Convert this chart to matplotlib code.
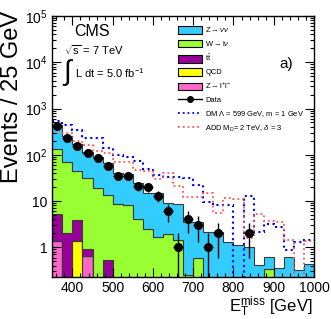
import numpy as np
import matplotlib
matplotlib.use('Agg')
import matplotlib.pyplot as plt
from matplotlib.patches import Patch
from matplotlib.lines import Line2D
from matplotlib.ticker import MultipleLocator, LogLocator, FuncFormatter

plt.rcParams['font.family'] = ['Liberation Sans', 'DejaVu Sans']
plt.rcParams['mathtext.fontset'] = 'custom'
plt.rcParams['mathtext.rm'] = 'Liberation Sans'
plt.rcParams['mathtext.it'] = 'Liberation Sans:italic'
plt.rcParams['mathtext.bf'] = 'Liberation Sans:bold'

# MET bins, 25 GeV wide
edges = np.arange(350, 1001, 25)

# background components (events / bin)
zll   = [1.39, 0, 0, 0.66, 0, 0, 0, 0, 0, 0, 0, 0, 0, 0, 0, 0, 0, 0, 0, 0, 0, 0, 0, 0, 0, 0]
qcd   = [0, 0, 1.39, 0, 0, 0, 0, 0, 0, 0, 0, 0, 0, 0, 0, 0, 0, 0, 0, 0, 0, 0, 0, 0, 0, 0]
ttbar = [3.86, 2.0, 2.5, 0.25, 0, 0.53, 0, 0, 0, 0, 0, 0, 0, 0, 0, 0, 0, 0, 0, 0, 0, 0, 0, 0, 0, 0]
wlnu  = [126, 67, 41.1, 30.1, 19, 13, 8.6, 8.2, 4.0, 2.45, 1.7, 1.94, 1.45, 0.25, 0.58,
         0, 0, 0, 0, 0, 0, 0.34, 0, 0, 0, 0]
znunu = [299, 186, 125, 86, 72, 51.5, 31.4, 30.8, 20, 12.25, 13, 7.06, 7.05, 3.35, 3.02,
         2.1, 2.1, 1.3, 1.12, 1.0, 0.41, 0.26, 0.35, 0.6, 0.32, 0.43]

# observed events
data = [410, 234, 155, 111, 85, 57, 34, 35, 21, 20, 13, 6, 1, 4, 3, 1, 2, 0, 0, 2, 0, 0, 0, 0, 0, 0]

# signal + background
dm  = [540, 440, 343, 227, 227, 138, 100, 88, 72, 50, 36, 33, 33, 32, 22.5, 9.7, 8, 8,
       0.1, 12.8, 2.17, 3.2, 2.7, 0.87, 1.32, 1.42]
add = [300, 290, 200, 165, 122, 110, 71, 70, 46, 45, 30, 41, 21, 12, 12, 14.7, 5.4, 11.5,
       11, 1.6, 5.3, 3.7, 3.5, 1.45, 0.1, 1.35]

W, H = 331, 319
fig = plt.figure(figsize=(W / 100, H / 100), dpi=100)
ax = fig.add_axes([52.3 / W, 1 - 276.7 / H, (314 - 52.3) / W, (276.7 - 16) / H])

components = [
    (zll, '#ff66cc', 'Z$\\rightarrow$l$^{+}$l$^{-}$'),
    (qcd, '#ffff00', 'QCD'),
    (ttbar, '#990099', 't$\\bar{\\rm t}$'),
    (wlnu, '#99ff33', 'W$\\rightarrow$l$\\nu$'),
    (znunu, '#33ccff', 'Z$\\rightarrow\\nu\\nu$'),
]

base = np.full(len(data), 1e-3)
for vals, col, lab in components:
    top = base + np.array(vals)
    ax.stairs(top, edges, baseline=base, fill=True, facecolor=col,
              edgecolor='#3a3a3a', lw=0.8)
    base = top

ax.stairs(dm, edges, baseline=None, color='#0000ff', ls=':', lw=1.5)
ax.stairs(add, edges, baseline=None, color='#ff5555', ls=':', lw=1.3)

centers = 0.5 * (edges[1:] + edges[:-1])
d = np.array(data, dtype=float)
m = d > 0
err = np.sqrt(d[m])
lo = np.minimum(err, d[m] * 0.999)
ax.errorbar(centers[m], d[m], xerr=12.5, yerr=[lo, err], fmt='o', color='black',
            ms=5.5, lw=1, capsize=0, zorder=5)

ax.set_yscale('log')
ax.set_xlim(350, 1000)
ax.set_ylim(0.231, 1e5)

ax.xaxis.set_major_locator(MultipleLocator(100))
ax.xaxis.set_minor_locator(MultipleLocator(20))
ax.yaxis.set_major_locator(LogLocator(base=10, numticks=10))
ax.yaxis.set_minor_locator(LogLocator(base=10, subs=np.arange(2, 10), numticks=20))


def ylab(v, pos):
    if v < 1.5:
        return '1'
    if v < 15:
        return '10'
    return '10$^{%d}$' % int(round(np.log10(v)))


ax.yaxis.set_major_formatter(FuncFormatter(ylab))
ax.tick_params(which='both', direction='in', top=True, right=True, labelsize=10)
ax.tick_params(which='major', length=6.5, width=0.8)
ax.tick_params(which='minor', length=3.2, width=0.8)
ax.tick_params(axis='x', pad=3)
for s in ax.spines.values():
    s.set_linewidth(1.0)

# labels
fig.text(12 / W, 1 - 11 / H, 'Events / 25 GeV', rotation=90, ha='center', va='top', fontsize=17)
fig.text(312 / W, 1 - 295 / H, 'E$_{\\rm T}^{\\rm miss}$ [GeV]', ha='right', va='top', fontsize=12)

fig.text(92 / W, 1 - 31 / H, 'CMS', ha='center', va='center', fontsize=11.5)
fig.text(64 / W, 1 - 50 / H, '$\\sqrt{\\rm s}$ = 7 TeV', ha='left', va='center', fontsize=8)
fig.text(63 / W, 1 - 73 / H, '\u222b', ha='left', va='center', fontsize=20)
fig.text(75 / W, 1 - 73 / H, 'L dt = 5.0 fb$^{-1}$', ha='left', va='center', fontsize=8)
fig.text(286 / W, 1 - 64 / H, 'a)', ha='center', va='center', fontsize=11)

handles = [Patch(facecolor=c, edgecolor='black', lw=0.8) for _, c, _ in components[::-1]]
labels = [lab for _, _, lab in components[::-1]]
handles += [Line2D([], [], color='black', marker='o', ms=4, lw=1),
            Line2D([], [], color='#0000ff', ls=':', lw=1.3),
            Line2D([], [], color='#ff5555', ls=':', lw=1.3)]
labels += ['Data', 'DM $\\Lambda$ = 599 GeV, m = 1 GeV', 'ADD M$_{\\rm D}$= 2 TeV, $\\delta$ = 3']

fs = 5.4
fpx = fs * 100 / 72
ax.legend(handles, labels, loc='upper left', bbox_to_anchor=(178 / W, 1 - 25.5 / H),
          bbox_transform=fig.transFigure, frameon=False, fontsize=fs, borderpad=0,
          borderaxespad=0, handlelength=24 / fpx, handleheight=9 / fpx,
          handletextpad=0.45, labelspacing=0.62)

fig.savefig('out.png', dpi=100)
